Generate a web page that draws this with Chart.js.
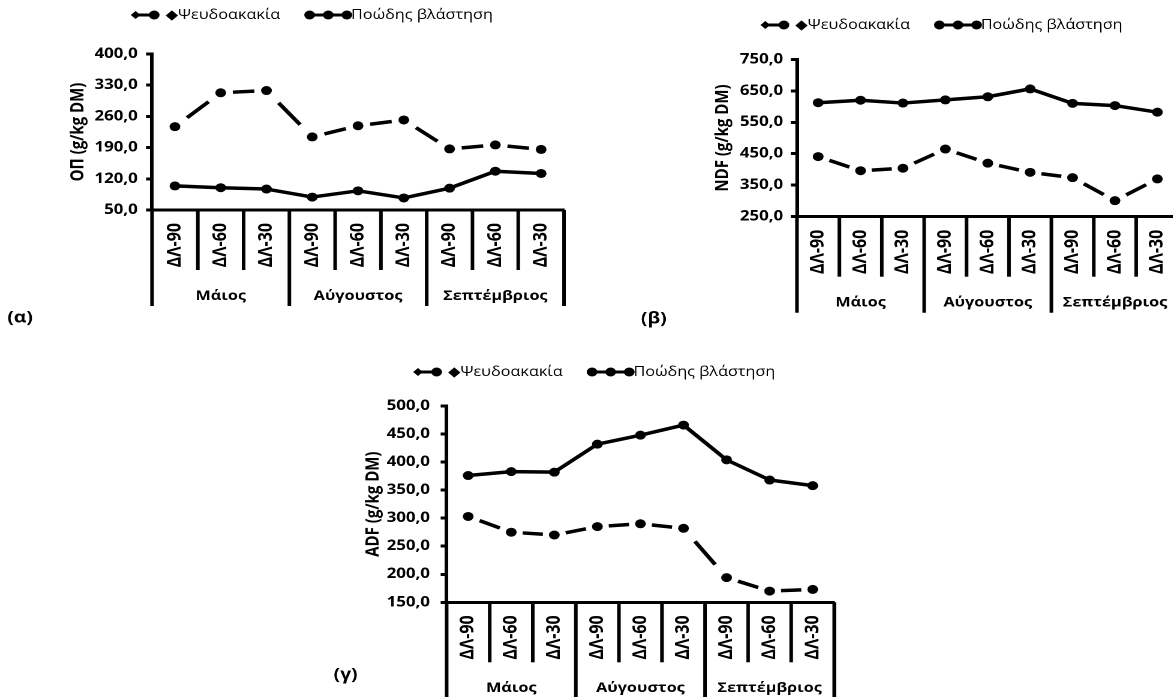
<!DOCTYPE html>
<html>
<head>
<meta charset="utf-8">
<script src="https://cdn.jsdelivr.net/npm/chart.js@4"></script>
<style>
  html, body { margin: 0; padding: 0; background: #fff; width: 1173px; height: 697px; overflow: hidden; }
  .panel { position: absolute; transform-origin: 0 0; transform: scaleX(1.2); }
  canvas { display: block; }
</style>
</head>
<body>
<div class="panel" style="left:0px;top:0px"><canvas id="chartCP" width="480" height="335"></canvas></div>
<div class="panel" style="left:640px;top:0px"><canvas id="chartNDF" width="470" height="335"></canvas></div>
<div class="panel" style="left:300px;top:340px"><canvas id="chartADF" width="470" height="360"></canvas></div>
<script>
// Sampling dates and months
const months = ['Μάιος', 'Αύγουστος', 'Σεπτέμβριος'];
const stages = ['ΔΛ-90', 'ΔΛ-60', 'ΔΛ-30'];
const categories = months.flatMap(() => stages);
const seriesNames = ['Ψευδοακακία', 'Ποώδης βλάστηση'];

// Crude protein (g/kg DM)
const cpPseudo = [237, 313, 318, 214, 239, 252, 187, 196, 186];
const cpHerb   = [104, 100, 97, 79, 93, 77, 99, 137, 132];
const cpAxis   = [50, 400, 70];   // min, max, step

// NDF (g/kg DM)
const ndfPseudo = [441, 396, 404, 465, 420, 391, 374, 301, 370];
const ndfHerb   = [612, 620, 611, 621, 631, 656, 610, 603, 582];
const ndfAxis   = [250, 750, 100];

// ADF (g/kg DM)
const adfPseudo = [303, 275, 270, 285, 290, 282, 194, 170, 173];
const adfHerb   = [376, 383, 382, 432, 448, 466, 404, 368, 358];
const adfAxis   = [150, 500, 50];

const FONT = "'Open Sans', 'DejaVu Sans', sans-serif";
Chart.defaults.font.family = FONT;
Chart.defaults.color = '#000';

// one dash centred on every segment of the dashed series
const DASH_FRAC = 0.47;
const DASH_GAP = 400;
const segLen = c => Math.hypot(c.p1.x - c.p0.x, c.p1.y - c.p0.y);
const segDash = c => [segLen(c) * DASH_FRAC, DASH_GAP];
const segDashOffset = c => {
  const L = segLen(c);
  const D = L * DASH_FRAC;
  return D + DASH_GAP - (L - D) / 2 + (c.p0DataIndex % 2) * 0.001;
};

// Draws the two-level category axis, the legend and the panel letter
const panelDecor = {
  id: 'panelDecor',
  afterDraw(chart, args, o) {
    const { ctx, chartArea: a } = chart;
    const xs = chart.scales.x;
    const n = chart.data.labels.length;
    const step = xs.getPixelForValue(1) - xs.getPixelForValue(0);
    ctx.save();
    ctx.strokeStyle = '#000';
    ctx.fillStyle = '#000';
    ctx.lineWidth = 3;
    ctx.lineCap = 'butt';

    // dividers under the axis
    for (let j = 0; j <= n; j++) {
      const x = xs.getPixelForValue(0) - step / 2 + j * step;
      const isGroup = j % stages.length === 0;
      const y1 = isGroup ? (o.longTo || a.bottom + 96) : a.bottom + 60;
      ctx.beginPath();
      ctx.moveTo(x, a.bottom);
      ctx.lineTo(x, y1);
      ctx.stroke();
    }

    // vertical date labels
    ctx.font = `bold 16px ${FONT}`;
    ctx.textAlign = 'right';
    ctx.textBaseline = 'middle';
    chart.data.labels.forEach((lab, i) => {
      ctx.save();
      ctx.translate(xs.getPixelForValue(i), a.bottom + 13);
      ctx.rotate(-Math.PI / 2);
      ctx.fillText(lab, 0, 0);
      ctx.restore();
    });

    // month labels
    ctx.font = `bold 13.5px ${FONT}`;
    ctx.textAlign = 'center';
    months.forEach((m, g) => {
      const x = (xs.getPixelForValue(g * 3) + xs.getPixelForValue(g * 3 + 2)) / 2;
      ctx.fillText(m, x, a.bottom + 86);
    });

    // legend
    const ly = o.legendY;
    ctx.font = `13.5px ${FONT}`;
    const t1 = '◆' + seriesNames[0];
    const t2 = seriesNames[1];
    const w1 = ctx.measureText(t1).width;
    const w2 = ctx.measureText(t2).width;
    const s1 = 24, s2 = 40, g1 = 5, g2 = 20;
    const total = s1 + g1 + w1 + g2 + s2 + w2;
    let x = (a.left + a.right) / 2 - 38 - total / 2;
    const dot = (cx, r) => { ctx.beginPath(); ctx.arc(cx, ly, r, 0, Math.PI * 2); ctx.fill(); };
    const seg = (xa, xb) => { ctx.beginPath(); ctx.moveTo(xa, ly); ctx.lineTo(xb, ly); ctx.stroke(); };
    seg(x + 3, x + s1 - 4);
    ctx.beginPath();
    ctx.moveTo(x, ly); ctx.lineTo(x + 4, ly - 4); ctx.lineTo(x + 8, ly); ctx.lineTo(x + 4, ly + 4);
    ctx.closePath(); ctx.fill();
    dot(x + s1 - 4.5, 4.5);
    x += s1 + g1;
    ctx.textAlign = 'left';
    ctx.fillText(t1, x, ly);
    x += w1 + g2;
    seg(x + 4, x + s2 - 4);
    dot(x + 4.5, 4.5);
    dot(x + s2 / 2, 4.5);
    dot(x + s2 - 4.5, 4.5);
    ctx.fillText(t2, x + s2 - 1, ly);

    // panel letter
    ctx.font = `bold 16px ${FONT}`;
    ctx.textAlign = 'center';
    ctx.fillText(o.letter, o.letterX, o.letterY);
    ctx.restore();
  }
};

function makeChart(id, pseudo, herb, axis, yTitle, g) {
  const [yMin, yMax, yStep] = axis;
  const canvas = document.getElementById(id);
  const H = canvas.height;
  const W = canvas.width;
  return new Chart(canvas, {
    type: 'line',
    data: {
      labels: categories,
      datasets: [
        {
          label: seriesNames[0],
          data: pseudo,
          borderColor: '#000',
          backgroundColor: '#000',
          borderWidth: 3.5,
          borderDash: [22, 30],
          borderCapStyle: 'butt',
          borderJoinStyle: 'round',
          segment: { borderDash: segDash, borderDashOffset: segDashOffset },
          pointRadius: 4.5,
          pointBackgroundColor: '#000',
          pointBorderColor: '#000',
          pointBorderWidth: 0,
          tension: 0,
          fill: false
        },
        {
          label: seriesNames[1],
          data: herb,
          borderColor: '#000',
          backgroundColor: '#000',
          borderWidth: 3.5,
          borderJoinStyle: 'round',
          pointRadius: 4.5,
          pointBackgroundColor: '#000',
          pointBorderColor: '#000',
          pointBorderWidth: 0,
          tension: 0,
          fill: false
        }
      ]
    },
    options: {
      responsive: false,
      animation: false,
      devicePixelRatio: 2,
      events: [],
      layout: { padding: { left: 0, top: g.top, right: W - g.right, bottom: 0 } },
      plugins: {
        legend: { display: false },
        tooltip: { enabled: false },
        panelDecor: g
      },
      scales: {
        x: {
          type: 'category',
          offset: true,
          ticks: { display: false },
          grid: { display: false },
          border: { display: true, width: 3, color: '#000' },
          afterFit: s => { s.height = H - g.bottom; }
        },
        y: {
          min: yMin,
          max: yMax,
          ticks: {
            stepSize: yStep,
            padding: g.tickPad,
            color: '#000',
            font: { size: 14, weight: 'bold' },
            callback: v => v.toFixed(1).replace('.', ',')
          },
          grid: { display: true, drawOnChartArea: false, drawTicks: true, tickLength: 5, lineWidth: 3, color: '#000' },
          border: { display: true, width: 3, color: '#000' },
          title: {
            display: true,
            text: yTitle,
            color: '#000',
            font: { size: 15, weight: 'bold' },
            padding: { top: g.titlePad, bottom: 0 }
          },
          afterFit: s => { s.width = g.left; }
        }
      }
    },
    plugins: [panelDecor]
  });
}

makeChart('chartCP', cpPseudo, cpHerb, cpAxis, 'ΟΠ (g/kg DM)', {
  left: 126.7, right: 470, top: 54, bottom: 210, tickPad: 7, titlePad: 56,
  legendY: 15, letter: '(α)', letterX: 16.7, letterY: 318
});
makeChart('chartNDF', ndfPseudo, ndfHerb, ndfAxis, 'NDF (g/kg DM)', {
  left: 130.8, right: 448.8, top: 59.3, bottom: 216.7, tickPad: 6.5, titlePad: 60,
  legendY: 25, letter: '(β)', letterX: 11.5, letterY: 319
});
makeChart('chartADF', adfPseudo, adfHerb, adfAxis, 'ADF (g/kg DM)', {
  left: 122.2, right: 445.2, top: 66, bottom: 262.3, tickPad: 9, titlePad: 52,
  legendY: 32, letter: '(γ)', letterX: 38, letterY: 335, longTo: 360
});
</script>
</body>
</html>
